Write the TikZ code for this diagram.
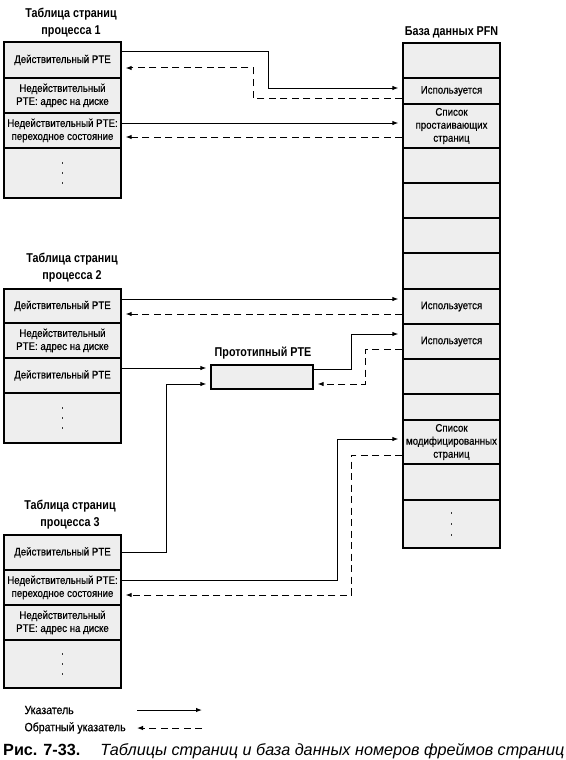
\documentclass[tikz,border=0pt]{standalone}
\usepackage{fontspec}
\setmainfont{Liberation Sans}
\newfontfamily\narrowfont[FakeStretch=0.88,FakeBold=0.5]{Liberation Sans}
\newfontfamily\titlefont[FakeStretch=0.84]{Liberation Sans Bold}
\usetikzlibrary{arrows.meta}
\begin{document}
\begin{tikzpicture}[x=1pt,y=-1pt,
    cell/.style={draw,line width=1.3pt,fill=gray!13,minimum width=117,inner sep=0,
      align=center,font=\narrowfont\fontsize{11}{13}\selectfont},
    pfncell/.style={cell,minimum width=97},
    title/.style={align=center,font=\titlefont\fontsize{12.8}{17}\selectfont},
    legend/.style={anchor=west,font=\narrowfont\fontsize{12}{14}\selectfont},
    ptr/.style={-{Latex[length=6pt,width=4.5pt]},line width=1pt,shorten >=4pt},
    backptr/.style={ptr,dash pattern=on 7pt off 4.5pt}]
  \useasboundingbox[fill=white] (0,0) rectangle (565,760);
  % page tables
  \node[title] (title1) at (71,23) {Таблица страниц\\процесса 1};
  \foreach \n/\a/\b/\txt in {a/42/78/{Действительный PTE},
      b/78/113/{Недействительный\\PTE: адрес на диске},
      c/113/148/{Недействительный PTE:\\переходное состояние},
      d/148/198/{.\\[-3pt].\\[-3pt].}}
    \node[cell,minimum height={\b-\a}] (t1\n) at (62.5,{(\a+\b)/2}) {\txt};
  \node[title] (title2) at (72,268) {Таблица страниц\\процесса 2};
  \foreach \n/\a/\b/\txt in {a/289/323/{Действительный PTE},
      b/323/358/{Недействительный\\PTE: адрес на диске},
      c/358/393/{Действительный PTE},
      d/393/443/{.\\[-3pt].\\[-3pt].}}
    \node[cell,minimum height={\b-\a}] (t2\n) at (62.5,{(\a+\b)/2}) {\txt};
  \node[title] (title3) at (70,515) {Таблица страниц\\процесса 3};
  \foreach \n/\a/\b/\txt in {a/535/570/{Действительный PTE},
      b/570/605/{Недействительный PTE:\\переходное состояние},
      c/605/640/{Недействительный\\PTE: адрес на диске},
      d/640/688/{.\\[-3pt].\\[-3pt].}}
    \node[cell,minimum height={\b-\a}] (t3\n) at (62.5,{(\a+\b)/2}) {\txt};
  % PFN database
  \node[title] (pfntitle) at (451.5,32) {База данных PFN};
  \foreach \n/\a/\b/\txt in {1/43/78/{}, 2/78/104/{Используется},
      3/104/148/{Список\\простаивающих\\страниц}, 4/148/183/{}, 5/183/218/{},
      6/218/253/{}, 7/253/289/{}, 8/289/324/{Используется}, 9/324/359/{Используется},
      10/359/394/{}, 11/394/420/{}, 12/420/464/{Список\\модифицированных\\страниц},
      13/464/500/{}, 14/500/548/{.\\[-2pt].\\[-2pt].}}
    \node[pfncell,minimum height={\b-\a}] (p\n) at (451.5,{(\a+\b)/2}) {\txt};
  % prototype PTE
  \node[title] (prototitle) at (263,353) {Прототипный PTE};
  \node[cell,minimum width=102,minimum height=24] (proto) at (262,377) {};
  % pointers
  \draw[ptr] ([yshift=8pt]t1a.east) -- ++(147,0) |- ([yshift=3pt]p2.west);
  \draw[backptr] ([yshift=-7pt]p2.west) -- ++(-149,0) |- ([yshift=-8pt]t1a.east);
  \draw[ptr] ([yshift=7.5pt]t1c.east) -- ([yshift=3pt]p3.west);
  \draw[backptr] ([yshift=-11pt]p3.west) -- ([yshift=-6.5pt]t1c.east);
  \draw[ptr] ([yshift=7pt]t2a.east) -- ([yshift=7.5pt]p8.west);
  \draw[backptr] ([yshift=-7.5pt]p8.west) -- ([yshift=-8pt]t2a.east);
  \draw[ptr] ([yshift=7.5pt]t2c.east) -- ([yshift=9pt]proto.west);
  \draw[ptr] (t3a.east) -- ++(45,0) |- ([yshift=-7pt]proto.west);
  \draw[ptr] ([yshift=8pt]proto.east) -- ++(38,0) |- ([yshift=7.5pt]p9.west);
  \draw[backptr] ([yshift=-7.5pt]p9.west) -- ++(-37,0) |- ([yshift=-7pt]proto.east);
  \draw[ptr] ([yshift=7.5pt]t3b.east) -- ++(216,0) |- ([yshift=3pt]p12.west);
  \draw[backptr] ([yshift=-13pt]p12.west) -- ++(-51,0) |- ([yshift=-7.5pt]t3b.east);
  % legend
  \node[legend] (lptr) at (21,710) {Указатель};
  \node[legend] (lback) at (21,728) {Обратный указатель};
  \coordinate (lp1) at (137,710);
  \coordinate (lp2) at (206,710);
  \coordinate (lb1) at (202,728);
  \coordinate (lb2) at (133,728);
  \draw[ptr] (lp1) -- (lp2);
  \draw[backptr] (lb1) -- (lb2);
  \node[anchor=west,inner sep=0,font=\fontsize{16.2}{18}\selectfont] (caption) at (3,751)
    {\textbf{Рис. 7-33.}\hspace{20pt}\textit{Таблицы страниц и база данных номеров фреймов страниц}};
\end{tikzpicture}
\end{document}
